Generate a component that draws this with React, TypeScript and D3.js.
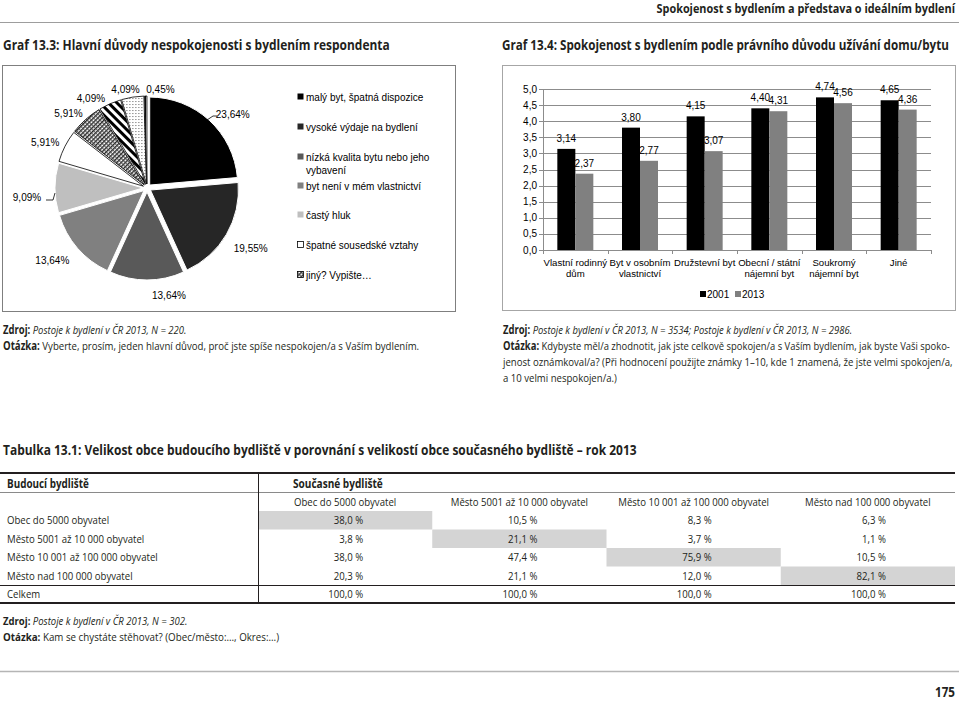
import React from "react";
import * as d3 from "d3";

// ---------- DATA ----------
const pieCategories = [
  "malý byt, špatná dispozice",
  "vysoké výdaje na bydlení",
  "nízká kvalita bytu nebo jeho vybavení",
  "byt není v mém vlastnictví",
  "častý hluk",
  "špatné sousedské vztahy",
  "jiný? Vypište…",
  "ostatní 1",
  "ostatní 2",
  "ostatní 3",
];
const pieValues = [23.64, 19.55, 13.64, 13.64, 9.09, 5.91, 5.91, 4.09, 4.09, 0.45];

const barCategories = [
  ["Vlastní rodinný", "dům"],
  ["Byt v osobním", "vlastnictví"],
  ["Družstevní byt"],
  ["Obecní / státní", "nájemní byt"],
  ["Soukromý", "nájemní byt"],
  ["Jiné"],
];
const barSeriesNames = ["2001", "2013"];
const values2001 = [3.14, 3.8, 4.15, 4.4, 4.74, 4.65];
const values2013 = [2.37, 2.77, 3.07, 4.31, 4.56, 4.36];

const tableRowLabels = [
  "Obec do 5000 obyvatel",
  "Město 5001 až 10 000 obyvatel",
  "Město 10 001 až 100 000 obyvatel",
  "Město nad 100 000 obyvatel",
];
const tableColLabels = [
  "Obec do 5000 obyvatel",
  "Město 5001 až 10 000 obyvatel",
  "Město 10 001 až 100 000 obyvatel",
  "Město nad 100 000 obyvatel",
];
const colObec = [38.0, 3.8, 38.0, 20.3];
const colMesto5001 = [10.5, 21.1, 47.4, 21.1];
const colMesto10001 = [8.3, 3.7, 75.9, 12.0];
const colMesto100000 = [6.3, 1.1, 10.5, 82.1];
const colTotals = [100.0, 100.0, 100.0, 100.0];

// ---------- STYLE / LAYOUT ----------
const W = 959;
const H = 701;
const CHART_FONT = "'Liberation Sans', Arial, sans-serif";
const BODY_FONT = "'Open Sans', 'Noto Sans', sans-serif";
const INK = "#231f20";
const pieFills = ["#000000", "#262626", "#595959", "#808080", "#bfbfbf", "#ffffff", "url(#hatch)", "url(#stripes)", "url(#dots)", "url(#tiny)"];
const labelNudge: [number, number][] = [
  [10, 0], [7, 9], [22, 6], [-10, 6], [-8, 9], [-2, 0], [-4, 0], [-11, 2], [-4, 1], [15, 2],
];

const fmt1 = (v: number) => d3.format(".1f")(v).replace(".", ",");
const fmt2 = (v: number) => d3.format(".2f")(v).replace(".", ",");

// text measuring for condensed look (scale horizontally)
let _ctx: CanvasRenderingContext2D | null = null;
function measure(text: string, size: number, weight = "normal", style = "normal", family = BODY_FONT) {
  if (!_ctx && typeof document !== "undefined") _ctx = document.createElement("canvas").getContext("2d");
  if (!_ctx) return text.length * size * 0.5;
  _ctx.font = `${style} ${weight} ${size}px ${family}`;
  return _ctx.measureText(text).width;
}

type Part = [string, string];
function FitText({ x, y, width, parts, size = 11.5, anchor = "start", sx }: { x: number; y: number; width?: number; parts: Part[]; size?: number; anchor?: "start" | "end" | "middle"; sx?: number }) {
  const natural = parts.reduce(
    (s, [st, t]) => s + measure(t, size, st === "b" ? "bold" : "normal", st === "i" ? "italic" : "normal"),
    0
  );
  const k = sx !== undefined ? sx : width ? width / natural : 1;
  return (
    <g transform={`translate(${x},${y}) scale(${k},1)`}>
      <text x={0} y={0} textAnchor={anchor} fontFamily={BODY_FONT} fontSize={size} fill={INK}>
        {parts.map(([st, t], i) => (
          <tspan key={i} fontWeight={st === "b" ? "bold" : "normal"} fontStyle={st === "i" ? "italic" : "normal"}>
            {t}
          </tspan>
        ))}
      </text>
    </g>
  );
}

function PieChart() {
  const cx = 147, cy = 188, R = 88;
  const arcs = d3.pie<number>().sort(null).value((d) => d)(pieValues);
  const arcGen = d3.arc<d3.PieArcDatum<number>>().innerRadius(0).outerRadius(R);
  const fs = 10;
  return (
    <g fontFamily={CHART_FONT}>
      <rect x={2.5} y={65.5} width={453} height={246} fill="#fff" stroke="#7f7f7f" strokeWidth={1} />
      {arcs.map((a, i) => {
        const mid = (a.startAngle + a.endAngle) / 2;
        const ex = Math.sin(mid) * 4, ey = -Math.cos(mid) * 4;
        return (
          <path
            key={i}
            d={arcGen(a) || ""}
            transform={`translate(${cx + ex},${cy + ey})`}
            fill={pieFills[i]}
            stroke={i < 5 ? "#fff" : "#000"}
            strokeWidth={i < 5 ? 1 : 0.8}
          />
        );
      })}
      {arcs.map((a, i) => {
        const mid = (a.startAngle + a.endAngle) / 2;
        const dx = Math.sin(mid), dy = -Math.cos(mid);
        const px = cx + (R + 8) * dx, py = cy + (R + 8) * dy;
        const lx = px + dx * 16 + labelNudge[i][0];
        const ly = py + dy * 5 + labelNudge[i][1];
        return (
          <text key={i} x={lx} y={ly + 4} textAnchor="middle" fontSize={fs} fill="#000">
            {fmt2(pieValues[i]) + "%"}
          </text>
        );
      })}
      {/* leader lines */}
      <polyline points="207,120 213,116 217,116" fill="none" stroke="#000" strokeWidth={0.8} />
      <polyline points="46,200 53,200 55,193" fill="none" stroke="#000" strokeWidth={0.8} />
      {/* legend */}
      {pieCategories.slice(0, 7).map((c, i) => {
        const ys = [97, 127, 157, 186, 215, 245, 275];
        const y = ys[i];
        const lines = i === 2 ? ["nízká kvalita bytu nebo jeho", "vybavení"] : [c];
        return (
          <g key={i}>
            <rect x={297.5} y={y - 3.5} width={6} height={6} fill={pieFills[i]} stroke={i >= 5 ? "#000" : "none"} strokeWidth={0.8} />
            {lines.map((l, j) => (
              <text key={j} x={306} y={y + 4 + j * 13} fontSize={fs} fill="#000">
                {l}
              </text>
            ))}
          </g>
        );
      })}
    </g>
  );
}

function BarChart() {
  const x0 = 543, x1 = 931, yTop = 89, yBot = 250;
  const y = d3.scaleLinear().domain([0, 5]).range([yBot, yTop]);
  const xb = d3.scaleBand<number>().domain(d3.range(barCategories.length)).range([x0, x1]).padding(0);
  const bw = xb.bandwidth();
  const inner = d3.scaleBand<string>().domain(barSeriesNames).range([bw / 2 - 18, bw / 2 + 18]).padding(0);
  const ticks = y.ticks(10);
  const series = [values2001, values2013];
  const colors = ["#000000", "#808080"];
  const fs = 10;
  return (
    <g fontFamily={CHART_FONT}>
      <rect x={502.5} y={65.5} width={453} height={245} fill="#fff" stroke="#a6a6a6" strokeWidth={1} />
      {ticks.map((t) => (
        <g key={t}>
          {t > 0 && <line x1={x0} x2={x1} y1={Math.round(y(t)) + 0.5} y2={Math.round(y(t)) + 0.5} stroke="#8c8c8c" strokeWidth={1} />}
          <line x1={x0 - 4} x2={x0} y1={Math.round(y(t)) + 0.5} y2={Math.round(y(t)) + 0.5} stroke="#8c8c8c" />
          <text x={537} y={y(t) + 3.5} textAnchor="end" fontSize={fs} fill="#000">
            {fmt1(t)}
          </text>
        </g>
      ))}
      <line x1={x0 + 0.5} x2={x0 + 0.5} y1={yTop} y2={yBot} stroke="#8c8c8c" />
      {series.map((vals, s) =>
        vals.map((v, i) => {
          const bx = (xb(i) as number) + (inner(barSeriesNames[s]) as number);
          return (
            <g key={`${s}-${i}`}>
              <rect x={bx} y={y(v)} width={inner.bandwidth()} height={yBot - y(v)} fill={colors[s]} />
              <text x={bx + inner.bandwidth() / 2} y={y(v) - 7} textAnchor="middle" fontSize={fs} fill="#000">
                {fmt2(v)}
              </text>
            </g>
          );
        })
      )}
      <line x1={x0} x2={x1} y1={yBot + 0.5} y2={yBot + 0.5} stroke="#8c8c8c" />
      {d3.range(barCategories.length + 1).map((i) => {
        const xx = Math.round(x0 + i * bw) + 0.5;
        return <line key={i} x1={xx} x2={xx} y1={yBot} y2={yBot + 4} stroke="#8c8c8c" />;
      })}
      {barCategories.map((lines, i) =>
        lines.map((l, j) => (
          <text key={`${i}-${j}`} x={(xb(i) as number) + bw / 2} y={265.5 + j * 11.5} textAnchor="middle" fontSize={9.6} fill="#000">
            {l}
          </text>
        ))
      )}
      {barSeriesNames.map((n, i) => (
        <g key={n}>
          <rect x={700 + i * 35} y={291} width={6} height={6} fill={colors[i]} />
          <text x={707 + i * 35} y={297.5} fontSize={fs} fill="#000">
            {n}
          </text>
        </g>
      ))}
    </g>
  );
}

function Table() {
  const colX = d3.scaleBand<string>().domain(tableColLabels).range([258, 955]);
  const cw = colX.bandwidth();
  const rowY = d3.scaleBand<string>().domain(tableRowLabels).range([511, 585]);
  const rh = rowY.bandwidth();
  const cols = [colObec, colMesto5001, colMesto10001, colMesto100000];
  const fs = 11.5;
  const k = 151 / measure("Město 10 001 až 100 000 obyvatel", fs);
  return (
    <g>
      {tableRowLabels.map((r, i) => (
        <rect key={r} x={colX(tableColLabels[i])} y={rowY(r)} width={cw} height={rh} fill="#d4d4d4" />
      ))}
      <line x1={0} x2={955} y1={473} y2={473} stroke={INK} strokeWidth={2} />
      <line x1={0} x2={955} y1={492.5} y2={492.5} stroke="#8a8a8a" strokeWidth={1} />
      <line x1={0} x2={955} y1={585.5} y2={585.5} stroke={INK} strokeWidth={1} />
      <line x1={0} x2={955} y1={603} y2={603} stroke={INK} strokeWidth={2} />
      <line x1={258.5} x2={258.5} y1={473} y2={603} stroke={INK} strokeWidth={1} />
      <FitText x={7} y={488} size={fs} width={82} parts={[["b", "Budoucí bydliště"]]} />
      <FitText x={293} y={488} size={fs} width={90} parts={[["b", "Současné bydliště"]]} />
      {tableColLabels.map((c) => (
        <FitText key={c} x={(colX(c) as number) + cw / 2} y={506} size={fs} sx={k} anchor="middle" parts={[["n", c]]} />
      ))}
      {tableRowLabels.map((r, i) => (
        <g key={r}>
          <FitText x={7} y={(rowY(r) as number) + rh / 2 + 4} size={fs} sx={k} parts={[["n", r]]} />
          {cols.map((col, j) => (
            <FitText
              key={j}
              x={(colX(tableColLabels[j]) as number) + cw / 2 + 18}
              y={(rowY(r) as number) + rh / 2 + 4}
              size={fs}
              sx={k}
              anchor="end"
              parts={[["n", fmt1(col[i]) + "\u00a0%"]]}
            />
          ))}
        </g>
      ))}
      <FitText x={7} y={598} size={fs} sx={k} parts={[["n", "Celkem"]]} />
      {colTotals.map((t, j) => (
        <FitText key={j} x={(colX(tableColLabels[j]) as number) + cw / 2 + 18} y={598} size={fs} sx={k} anchor="end" parts={[["n", fmt1(t) + "\u00a0%"]]} />
      ))}
    </g>
  );
}

export default function App() {
  return (
    <div style={{ position: "absolute", left: 0, top: 0, width: W, height: H, background: "#fff" }}>
      <svg width={W} height={H} viewBox={`0 0 ${W} ${H}`} style={{ display: "block" }}>
        <defs>
          <pattern id="hatch" width="3" height="3" patternUnits="userSpaceOnUse" patternTransform="rotate(45)">
            <rect width="3" height="3" fill="#fff" />
            <rect width="1.4" height="3" fill="#222" />
            <rect width="3" height="0.8" fill="#444" />
          </pattern>
          <pattern id="stripes" width="6" height="6" patternUnits="userSpaceOnUse" patternTransform="rotate(-45)">
            <rect width="6" height="6" fill="#fff" />
            <rect width="3" height="6" fill="#000" />
          </pattern>
          <pattern id="dots" width="3" height="3" patternUnits="userSpaceOnUse">
            <rect width="3" height="3" fill="#fff" />
            <rect x="1" y="1" width="0.9" height="0.9" fill="#333" />
          </pattern>
          <pattern id="tiny" width="2" height="2" patternUnits="userSpaceOnUse">
            <rect width="2" height="2" fill="#fff" />
            <rect width="1" height="2" fill="#000" />
          </pattern>
        </defs>
        <rect width={W} height={H} fill="#fff" />

        {/* page header */}
        <FitText x={955} y={13} size={12} width={299} anchor="end" parts={[["b", "Spokojenost s bydlením a představa o ideálním bydlení"]]} />
        <line x1={0} x2={W} y1={22.5} y2={22.5} stroke="#9d9d9d" strokeWidth={1} />

        {/* chart titles */}
        <FitText x={3} y={50} size={13.5} width={390} parts={[["b", "Graf 13.3:  Hlavní důvody nespokojenosti s bydlením respondenta"]]} />
        <FitText x={502} y={50} size={13.5} width={450} parts={[["b", "Graf 13.4:  Spokojenost s bydlením podle právního důvodu užívání domu/bytu"]]} />

        <PieChart />
        <BarChart />

        {/* notes under charts */}
        <FitText x={3} y={334} width={186} parts={[["b", "Zdroj:  "], ["i", "Postoje k bydlení v ČR 2013, N = 220."]]} />
        <FitText x={3} y={350} width={419} parts={[["b", "Otázka:  "], ["n", "Vyberte, prosím, jeden hlavní důvod, proč jste spíše nespokojen/a s Vaším bydlením."]]} />
        <FitText x={503} y={334} width={352} parts={[["b", "Zdroj:  "], ["i", "Postoje k bydlení v ČR 2013, N = 3534; Postoje k bydlení v ČR 2013, N = 2986."]]} />
        <FitText x={503} y={350} width={450} parts={[["b", "Otázka:  "], ["n", "Kdybyste měl/a zhodnotit, jak jste celkově spokojen/a s Vaším bydlením, jak byste Vaši spoko-"]]} />
        <FitText x={503} y={366} width={450} parts={[["n", "jenost oznámkoval/a? (Při hodnocení použijte známky 1–10, kde 1 znamená, že jste velmi spokojen/a,"]]} />
        <FitText x={503} y={382} width={114} parts={[["n", "a 10 velmi nespokojen/a.)"]]} />

        {/* table */}
        <FitText x={3} y={455} size={13.5} width={637} parts={[["b", "Tabulka 13.1:  Velikost obce budoucího bydliště v porovnání s velikostí obce současného bydliště – rok 2013"]]} />
        <Table />

        <FitText x={3} y={625} size={11} width={187} parts={[["b", "Zdroj:  "], ["i", "Postoje k bydlení v ČR 2013, N = 302."]]} />
        <FitText x={3} y={641} size={11} width={279} parts={[["b", "Otázka:  "], ["n", "Kam se chystáte stěhovat? (Obec/město:…, Okres:…)"]]} />

        {/* footer */}
        <line x1={0} x2={W} y1={671.5} y2={671.5} stroke="#b5b5b5" strokeWidth={1.5} />
        <FitText x={955} y={697} size={14} width={20} anchor="end" parts={[["b", "175"]]} />
      </svg>
    </div>
  );
}
